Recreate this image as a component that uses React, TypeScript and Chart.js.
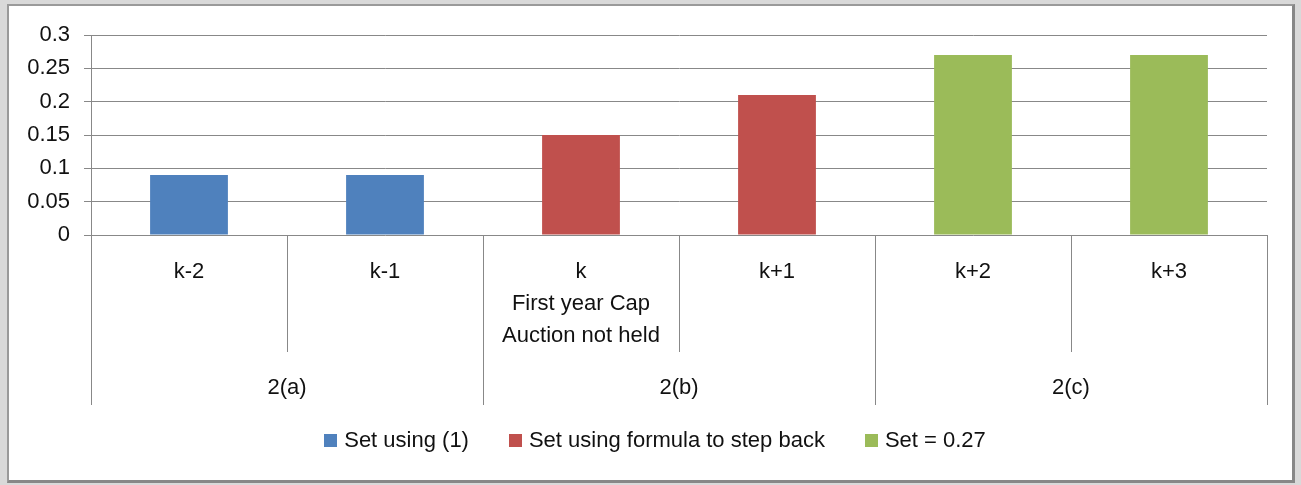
import React, { useEffect, useRef } from 'react';
import { Chart, registerables } from 'chart.js';

Chart.register(...registerables);

const categories = ['k-2', 'k-1', 'k', 'k+1', 'k+2', 'k+3'];
const categoryLabelLines = [
  ['k-2'],
  ['k-1'],
  ['k', 'First year Cap', 'Auction not held'],
  ['k+1'],
  ['k+2'],
  ['k+3'],
];
const groups = ['2(a)', '2(b)', '2(c)'];
const groupSpans = [2, 2, 2];
const seriesNames = ['Set using (1)', 'Set using formula to step back', 'Set = 0.27'];
const setUsing1 = [0.09, 0.09, null, null, null, null];
const setUsingFormula = [null, null, 0.15, 0.21, null, null];
const setFixed = [null, null, null, null, 0.27, 0.27];
const yTickLabels = ['0', '0.05', '0.1', '0.15', '0.2', '0.25', '0.3'];
const seriesColors = ['#4F81BD', '#C0504D', '#9BBB59'];

const FONT = '"Liberation Sans", Arial, sans-serif';
const FONT_SIZE = 22;
const LINE_COLOR = '#888888';
const TEXT_COLOR = '#111';

const multiLevelAxis = {
  id: 'multiLevelAxis',
  afterDraw(chart: any) {
    const ctx = chart.ctx;
    const xs = chart.scales.x;
    const area = chart.chartArea;
    const n = categories.length;
    const centers = categories.map((_, i) => xs.getPixelForValue(i));
    const bounds: number[] = [area.left];
    for (let i = 0; i < n - 1; i++) bounds.push((centers[i] + centers[i + 1]) / 2);
    bounds.push(area.right);

    const groupBoundaryIdx = new Set<number>([0]);
    let acc = 0;
    groupSpans.forEach((s) => {
      acc += s;
      groupBoundaryIdx.add(acc);
    });

    ctx.save();
    ctx.strokeStyle = LINE_COLOR;
    ctx.lineWidth = 1;
    bounds.forEach((bx, i) => {
      const x = Math.round(bx) + 0.5;
      const yEnd = groupBoundaryIdx.has(i) ? area.bottom + 170 : area.bottom + 117;
      ctx.beginPath();
      ctx.moveTo(x, area.bottom);
      ctx.lineTo(x, yEnd);
      ctx.stroke();
    });

    ctx.fillStyle = TEXT_COLOR;
    ctx.font = `${FONT_SIZE}px ${FONT}`;
    ctx.textAlign = 'center';
    ctx.textBaseline = 'middle';
    categoryLabelLines.forEach((lines, i) => {
      lines.forEach((line, j) => {
        ctx.fillText(line, centers[i], area.bottom + 37 + j * 32);
      });
    });

    let start = 0;
    groups.forEach((g, gi) => {
      const end = start + groupSpans[gi];
      const cx = (bounds[start] + bounds[end]) / 2;
      ctx.fillText(g, cx, area.bottom + 153);
      start = end;
    });
    ctx.restore();
  },
};

const customLegend = {
  id: 'customLegend',
  afterDraw(chart: any) {
    const ctx = chart.ctx;
    ctx.save();
    ctx.font = `${FONT_SIZE}px ${FONT}`;
    ctx.textBaseline = 'middle';
    ctx.textAlign = 'left';
    const box = 13;
    const gap = 7;
    const spacing = 40;
    const items = chart.data.datasets.map((d: any) => ({
      label: d.label,
      color: d.backgroundColor,
      w: ctx.measureText(d.label).width,
    }));
    const total =
      items.reduce((s: number, it: any) => s + box + gap + it.w, 0) + spacing * (items.length - 1);
    let x = 655 - total / 2;
    const cy = 441;
    items.forEach((it: any) => {
      ctx.fillStyle = it.color;
      ctx.fillRect(Math.round(x), cy - 7, box, box);
      ctx.fillStyle = TEXT_COLOR;
      ctx.fillText(it.label, x + box + gap, cy);
      x += box + gap + it.w + spacing;
    });
    ctx.restore();
  },
};

export default function App() {
  const canvasRef = useRef<HTMLCanvasElement | null>(null);

  useEffect(() => {
    if (!canvasRef.current) return;
    const chart = new Chart(canvasRef.current, {
      type: 'bar',
      data: {
        labels: categories,
        datasets: [
          { label: seriesNames[0], data: setUsing1, backgroundColor: seriesColors[0] },
          { label: seriesNames[1], data: setUsingFormula, backgroundColor: seriesColors[1] },
          { label: seriesNames[2], data: setFixed, backgroundColor: seriesColors[2] },
        ],
      },
      options: {
        responsive: false,
        maintainAspectRatio: false,
        animation: false,
        layout: { padding: { top: 35, right: 34, left: 0, bottom: 0 } },
        datasets: {
          bar: { categoryPercentage: 1, barPercentage: 0.397, borderWidth: 0 },
        },
        plugins: {
          legend: { display: false },
          tooltip: { enabled: false },
          title: { display: false },
        },
        scales: {
          x: {
            stacked: true,
            grid: { display: false },
            border: { display: false },
            ticks: { display: false },
            afterFit: (scale: any) => {
              scale.height = 250;
            },
          },
          y: {
            stacked: true,
            min: 0,
            max: 0.3,
            ticks: {
              stepSize: 0.05,
              padding: 14,
              color: TEXT_COLOR,
              font: { family: FONT, size: FONT_SIZE },
              callback: (_v: any, i: number) => yTickLabels[i],
            },
            grid: { color: LINE_COLOR, tickLength: 7, lineWidth: 1 },
            border: { display: true, color: LINE_COLOR, width: 1 },
            afterFit: (scale: any) => {
              scale.width = 91;
            },
          },
        },
      },
      plugins: [multiLevelAxis, customLegend],
    });
    return () => chart.destroy();
  }, []);

  return (
    <div
      style={{
        position: 'fixed',
        left: 0,
        top: 0,
        width: 1301,
        height: 485,
        background: '#d9d9d9',
        overflow: 'hidden',
      }}
    >
      <div
        style={{
          position: 'absolute',
          left: 7,
          top: 4,
          width: 1288,
          height: 479,
          boxSizing: 'border-box',
          background: '#fff',
          borderTop: '2px solid #9a9a9a',
          borderLeft: '2px solid #9a9a9a',
          borderRight: '3px solid #878787',
          borderBottom: '3px solid #878787',
        }}
      />
      <canvas
        ref={canvasRef}
        width={1301}
        height={485}
        style={{ position: 'absolute', left: 0, top: 0, width: 1301, height: 485 }}
      />
    </div>
  );
}
